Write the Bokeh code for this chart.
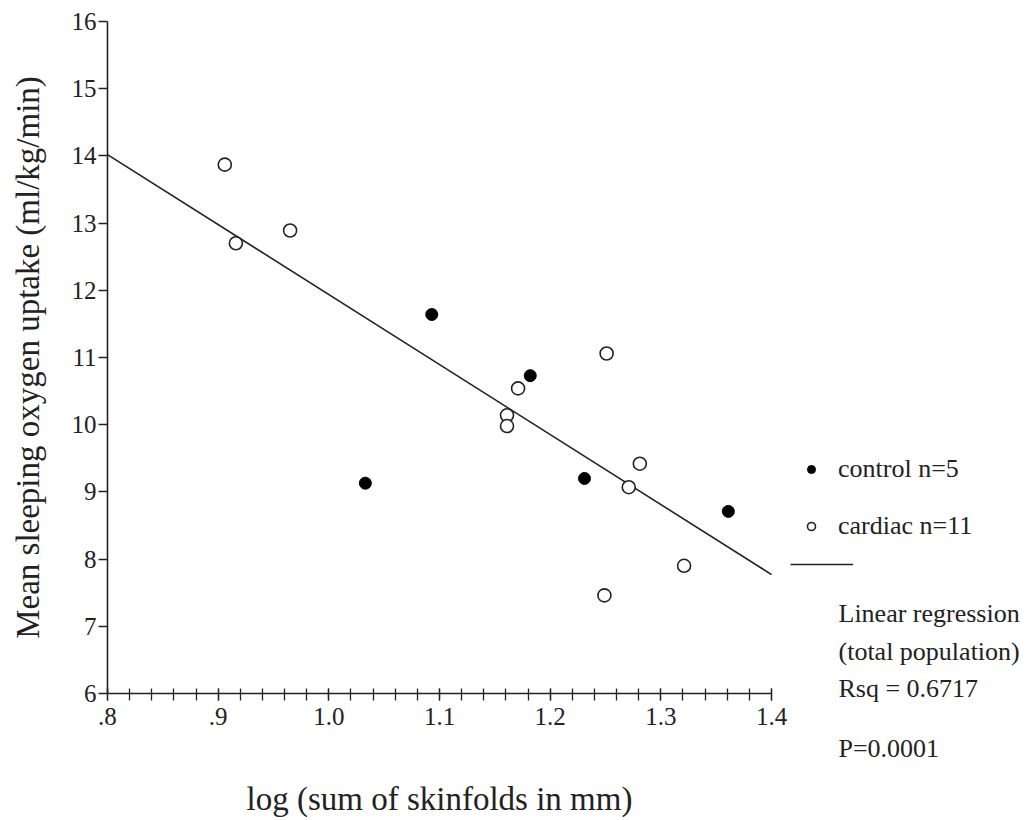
from bokeh.plotting import figure
from bokeh.models import Range1d, FixedTicker, Legend, LegendItem, Label
from bokeh.embed import file_html
from bokeh.resources import INLINE

# ---- data ----
control_x = [1.093, 1.182, 1.033, 1.231, 1.361]
control_y = [11.64, 10.73, 9.13, 9.20, 8.71]

cardiac_x = [0.906, 0.916, 0.965, 1.161, 1.161, 1.171, 1.251, 1.281, 1.271, 1.321, 1.249]
cardiac_y = [13.87, 12.70, 12.89, 10.14, 9.98, 10.54, 11.06, 9.42, 9.07, 7.90, 7.46]

regression_x = [0.8, 1.4]
regression_y = [14.02, 7.77]

x_ticks = [0.8, 0.9, 1.0, 1.1, 1.2, 1.3, 1.4]
x_tick_labels = [".8", ".9", "1.0", "1.1", "1.2", "1.3", "1.4"]
x_minor_ticks = [round(0.8 + 0.02 * i, 2) for i in range(31)]
y_ticks = [6, 7, 8, 9, 10, 11, 12, 13, 14, 15, 16]

legend_labels = ["control n=5", "cardiac n=11"]
regression_notes = ["Linear regression", "(total population)", "Rsq = 0.6717", "P=0.0001"]

x_title = "log (sum of skinfolds in mm)"
y_title = "Mean sleeping oxygen uptake (ml/kg/min)"

FONT = "Liberation Serif"
INK = "#222222"

# The frame covers the whole canvas; the axes are pinned at x = .8 and y = 6,
# so that tick labels, titles, key and notes all sit inside the frame (no clipping).
p = figure(width=1034, height=820, output_backend="svg", toolbar_location=None,
           x_range=Range1d(0.70332, 1.63763), y_range=Range1d(4.1101, 16.3125),
           min_border_left=0, min_border_right=0, min_border_top=0, min_border_bottom=0)
p.outline_line_color = None
p.xgrid.visible = False
p.ygrid.visible = False
p.background_fill_color = "white"
p.border_fill_color = "white"

# x axis, drawn at y = 6
xa = p.xaxis[0]
xa.fixed_location = 6
xa.ticker = FixedTicker(ticks=x_ticks, minor_ticks=x_minor_ticks)
xa.major_label_overrides = {t: s for t, s in zip(x_ticks, x_tick_labels)}
xa.bounds = (0.8, 1.4)
xa.axis_line_color = INK
xa.axis_line_width = 1.6
xa.major_tick_line_color = INK
xa.minor_tick_line_color = INK
xa.major_tick_line_width = 1.3
xa.minor_tick_line_width = 1.3
xa.major_tick_in = 5
xa.major_tick_out = 7
xa.minor_tick_in = 5
xa.minor_tick_out = 7
xa.major_label_standoff = 8
xa.major_label_text_font = FONT
xa.major_label_text_font_size = "25px"
xa.major_label_text_color = INK
xa.axis_label = x_title
xa.axis_label_text_font = FONT
xa.axis_label_text_font_size = "33px"
xa.axis_label_text_font_style = "normal"
xa.axis_label_text_color = INK
xa.axis_label_standoff = 52

# y axis, drawn at x = .8
ya = p.yaxis[0]
ya.fixed_location = 0.8
ya.ticker = FixedTicker(ticks=y_ticks, minor_ticks=[])
ya.bounds = (6, 16)
ya.axis_line_color = INK
ya.axis_line_width = 1.6
ya.major_tick_line_color = INK
ya.major_tick_line_width = 1.3
ya.major_tick_in = 0
ya.major_tick_out = 9
ya.minor_tick_in = 0
ya.minor_tick_out = 0
ya.major_label_standoff = 2
ya.major_label_text_font = FONT
ya.major_label_text_font_size = "25px"
ya.major_label_text_color = INK
ya.axis_label = y_title
ya.axis_label_text_font = FONT
ya.axis_label_text_font_size = "33px"
ya.axis_label_text_font_style = "normal"
ya.axis_label_text_color = INK
ya.axis_label_standoff = 23

# data
r_line = p.line(regression_x, regression_y, line_color=INK, line_width=1.6)
r_control = p.scatter(control_x, control_y, marker="circle", size=12,
                      fill_color="black", line_color="black", line_width=1)
r_cardiac = p.scatter(cardiac_x, cardiac_y, marker="circle", size=13,
                      fill_color="white", line_color=INK, line_width=1.6)

# key for the two groups
leg1 = Legend(items=[LegendItem(label=legend_labels[0], renderers=[r_control]),
                     LegendItem(label=legend_labels[1], renderers=[r_cardiac])],
              location=(801, 279), orientation="vertical", padding=0, margin=0,
              spacing=27, glyph_width=20, glyph_height=30, label_height=30,
              label_standoff=17, label_text_font=FONT, label_text_font_size="26px",
              label_text_color=INK, border_line_color=None, background_fill_alpha=0)
p.add_layout(leg1)

# key for the regression line
leg2 = Legend(items=[LegendItem(label=" ", renderers=[r_line])],
              location=(790, 251), orientation="vertical", padding=0, margin=0,
              glyph_width=63, glyph_height=10, label_height=10, label_standoff=0,
              label_text_font=FONT, label_text_font_size="6px",
              border_line_color=None, background_fill_alpha=0)
p.add_layout(leg2)

note_offsets = [207, 169, 132, 72]
for txt, yoff in zip(regression_notes, note_offsets):
    p.add_layout(Label(x=838, y=yoff, x_units="screen", y_units="screen", text=txt,
                       text_font=FONT, text_font_size="26px", text_color=INK,
                       text_baseline="alphabetic"))

open("out.html", "w").write(file_html(p, INLINE))
